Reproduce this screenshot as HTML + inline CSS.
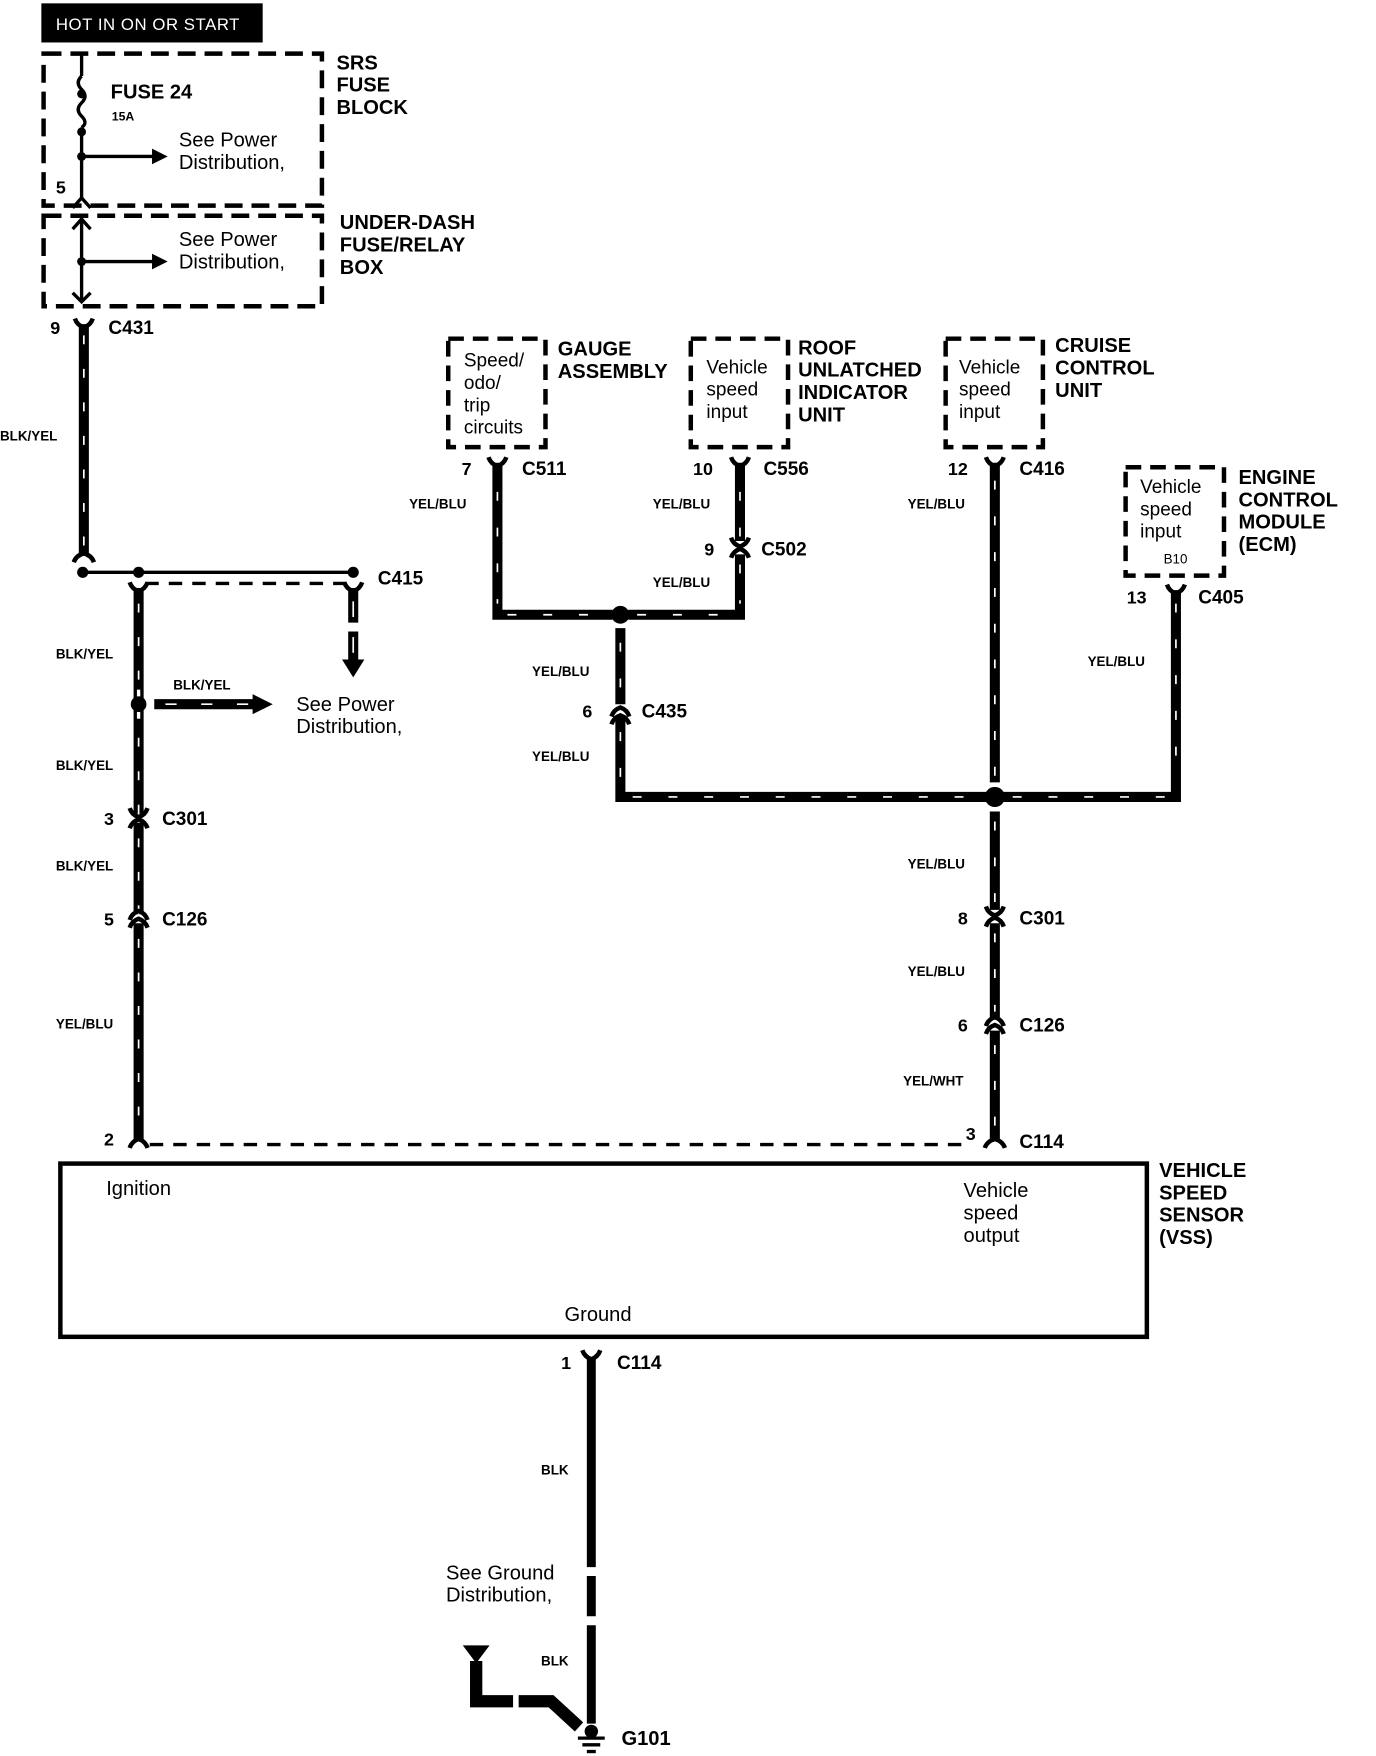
<!DOCTYPE html>
<html><head><meta charset="utf-8"><style>
html,body{margin:0;padding:0;background:#fff;}
svg{display:block;}
text{font-family:"Liberation Sans",sans-serif;fill:#000;}
.b{font-weight:bold;}
</style></head><body>
<svg width="1376" height="1756" viewBox="0 0 1231 1571" preserveAspectRatio="none" xmlns="http://www.w3.org/2000/svg">
<defs>
<g id="fem"><path d="M-8,-9 Q-6,-3 0,-1 Q6,-3 8,-9" fill="none" stroke="#000" stroke-width="4"/><rect x="-3" y="-3" width="6" height="8" fill="#000"/></g>
<g id="jn"><path d="M-8,-9 Q-6,-3 0,-1 Q6,-3 8,-9" fill="none" stroke="#000" stroke-width="4"/><path d="M-8,9 Q-6,3 0,1 Q6,3 8,9" fill="none" stroke="#000" stroke-width="4"/></g>
</defs>
<g stroke-linecap="butt">
<!-- HOT box -->
<rect x="37" y="3" width="198" height="35" fill="#000"/>
<text x="50" y="27" font-size="15" style="fill:#fff" letter-spacing="0.5">HOT IN ON OR START</text>

<!-- SRS box -->
<rect x="39" y="48" width="249" height="136" fill="none" stroke="#000" stroke-width="4" stroke-dasharray="16 8"/>
<text class="b" x="301" y="62" font-size="18">SRS</text>
<text class="b" x="301" y="82" font-size="18">FUSE</text>
<text class="b" x="301" y="102" font-size="18">BLOCK</text>
<line x1="73" y1="48" x2="73" y2="68" stroke="#000" stroke-width="3"/>
<path d="M73,68 q-6,6 0,12 q6,6 0,12 q-6,6 0,12 q6,6 0,10" fill="none" stroke="#000" stroke-width="3"/>
<line x1="73" y1="114" x2="73" y2="178" stroke="#000" stroke-width="3"/>
<circle cx="73" cy="84" r="4"/><circle cx="73" cy="118" r="4"/><circle cx="73" cy="140" r="4"/>
<line x1="73" y1="140" x2="138" y2="140" stroke="#000" stroke-width="3"/>
<path d="M136,133 L150,140 L136,147Z"/>
<text class="b" x="99" y="88" font-size="18">FUSE 24</text>
<text class="b" x="100" y="108" font-size="11">15A</text>
<text x="160" y="131" font-size="18">See Power</text>
<text x="160" y="151" font-size="18">Distribution,</text>
<text class="b" x="50" y="173" font-size="16">5</text>
<path d="M65,186 L73,177 L81,186" fill="none" stroke="#000" stroke-width="3"/>

<!-- Under-dash -->
<rect x="39" y="193" width="249" height="81" fill="none" stroke="#000" stroke-width="4" stroke-dasharray="16 8"/>
<line x1="73" y1="196" x2="73" y2="270" stroke="#000" stroke-width="3"/>
<path d="M65,205 L73,196 L81,205 M65,262 L73,270 L81,262" fill="none" stroke="#000" stroke-width="3"/>
<circle cx="73" cy="234" r="4"/>
<line x1="73" y1="234" x2="138" y2="234" stroke="#000" stroke-width="3"/>
<path d="M136,227 L150,234 L136,241Z"/>
<text x="160" y="220" font-size="18">See Power</text>
<text x="160" y="240" font-size="18">Distribution,</text>
<text class="b" x="304" y="205" font-size="18">UNDER-DASH</text>
<text class="b" x="304" y="225" font-size="18">FUSE/RELAY</text>
<text class="b" x="304" y="245" font-size="18">BOX</text>

<!-- BLK/YEL from C431 -->
<text class="b" x="45" y="299" font-size="16">9</text>
<text class="b" x="97" y="299" font-size="17">C431</text>
<line x1="75" y1="290" x2="75" y2="496" stroke="#000" stroke-width="9"/>
<line x1="75" y1="300" x2="75" y2="496" stroke="#fff" stroke-width="1.5" stroke-dasharray="8 22"/>
<use href="#fem" x="75" y="294"/>
<path d="M66,503 Q68,497 75,495 Q82,497 84,503" fill="none" stroke="#000" stroke-width="4"/>
<text class="b" x="0" y="394" font-size="12">BLK/YEL</text>

<!-- C415 -->
<line x1="74" y1="512" x2="316" y2="512" stroke="#000" stroke-width="3"/>
<circle cx="74" cy="512" r="5"/><circle cx="124" cy="512" r="5"/><circle cx="316" cy="512" r="5"/>
<line x1="130" y1="522" x2="312" y2="522" stroke="#000" stroke-width="3" stroke-dasharray="12 9"/>
<text class="b" x="338" y="523" font-size="17">C415</text>
<line x1="124" y1="526" x2="124" y2="1020" stroke="#000" stroke-width="9"/>
<line x1="124" y1="540" x2="124" y2="1020" stroke="#fff" stroke-width="1.5" stroke-dasharray="8 22"/>
<use href="#fem" x="124" y="530"/>
<line x1="316" y1="526" x2="316" y2="557" stroke="#000" stroke-width="9"/>
<line x1="316" y1="565" x2="316" y2="592" stroke="#000" stroke-width="9"/>
<use href="#fem" x="316" y="530"/>
<path d="M306,590 L316,606 L326,590Z"/>
<line x1="316" y1="538" x2="316" y2="552" stroke="#fff" stroke-width="1.5"/>
<line x1="316" y1="570" x2="316" y2="584" stroke="#fff" stroke-width="1.5"/>

<circle cx="124" cy="630" r="7"/>
<line x1="138" y1="630" x2="228" y2="630" stroke="#000" stroke-width="9"/>
<line x1="148" y1="630" x2="228" y2="630" stroke="#fff" stroke-width="1.5" stroke-dasharray="10 22"/>
<path d="M226,621 L244,630 L226,639Z"/>
<line x1="124" y1="617" x2="124" y2="623" stroke="#fff" stroke-width="3"/>
<line x1="124" y1="637" x2="124" y2="643" stroke="#fff" stroke-width="3"/>
<text class="b" x="155" y="617" font-size="12">BLK/YEL</text>
<text x="265" y="636" font-size="18">See Power</text>
<text x="265" y="656" font-size="18">Distribution,</text>
<text class="b" x="50" y="589" font-size="12">BLK/YEL</text>
<text class="b" x="50" y="689" font-size="12">BLK/YEL</text>
<text class="b" x="50" y="779" font-size="12">BLK/YEL</text>
<text class="b" x="50" y="920" font-size="12">YEL/BLU</text>
<rect x="116" y="728" width="16" height="8" fill="#fff"/>
<use href="#jn" x="124" y="732"/>
<text class="b" x="93" y="738" font-size="16">3</text>
<text class="b" x="145" y="738" font-size="17">C301</text>
<rect x="116" y="818" width="16" height="8" fill="#fff"/>
<path d="M116,823 Q118,817 124,815 Q130,817 132,823 M116,830 Q118,824 124,822 Q130,824 132,830" fill="none" stroke="#000" stroke-width="4"/>
<text class="b" x="93" y="828" font-size="16">5</text>
<text class="b" x="145" y="828" font-size="17">C126</text>

<!-- bottom dashed link -->
<text class="b" x="93" y="1025" font-size="16">2</text>
<path d="M116,1027 Q118,1021 124,1019 Q130,1021 132,1027" fill="none" stroke="#000" stroke-width="4"/>
<line x1="134" y1="1024" x2="868" y2="1024" stroke="#000" stroke-width="3" stroke-dasharray="12 9"/>

<!-- VSS -->
<rect x="54" y="1041" width="972" height="155" fill="none" stroke="#000" stroke-width="4"/>
<text x="95" y="1069" font-size="18">Ignition</text>
<text x="862" y="1071" font-size="18">Vehicle</text>
<text x="862" y="1091" font-size="18">speed</text>
<text x="862" y="1111" font-size="18">output</text>
<text x="505" y="1182" font-size="18">Ground</text>
<text class="b" x="1037" y="1053" font-size="18">VEHICLE</text>
<text class="b" x="1037" y="1073" font-size="18">SPEED</text>
<text class="b" x="1037" y="1093" font-size="18">SENSOR</text>
<text class="b" x="1037" y="1113" font-size="18">(VSS)</text>

<!-- ground wire -->
<text class="b" x="502" y="1225" font-size="16">1</text>
<text class="b" x="552" y="1225" font-size="17">C114</text>
<use href="#fem" x="529" y="1217"/>
<line x1="529" y1="1214" x2="529" y2="1402" stroke="#000" stroke-width="8"/>
<line x1="529" y1="1410" x2="529" y2="1446" stroke="#000" stroke-width="8"/>
<line x1="529" y1="1454" x2="529" y2="1542" stroke="#000" stroke-width="8"/>
<text class="b" x="484" y="1319" font-size="12">BLK</text>
<text class="b" x="484" y="1490" font-size="12">BLK</text>
<text x="399" y="1413" font-size="18">See Ground</text>
<text x="399" y="1433" font-size="18">Distribution,</text>
<path d="M414,1472 L438,1472 L426,1488Z"/>
<path d="M426,1486 L426,1522 L459,1522" fill="none" stroke="#000" stroke-width="11"/>
<path d="M464,1522 L493,1522 L518,1545" fill="none" stroke="#000" stroke-width="11"/>
<circle cx="529" cy="1549" r="6"/>
<line x1="517" y1="1555" x2="541" y2="1555" stroke="#000" stroke-width="3"/>
<line x1="521" y1="1561" x2="537" y2="1561" stroke="#000" stroke-width="3"/>
<line x1="525" y1="1567" x2="533" y2="1567" stroke="#000" stroke-width="3"/>
<text class="b" x="556" y="1561" font-size="18">G101</text>

<!-- module boxes -->
<rect x="401" y="303" width="87" height="97" fill="none" stroke="#000" stroke-width="4" stroke-dasharray="14 8"/>
<text x="415" y="328" font-size="17">Speed/</text>
<text x="415" y="348" font-size="17">odo/</text>
<text x="415" y="368" font-size="17">trip</text>
<text x="415" y="388" font-size="17">circuits</text>
<text class="b" x="499" y="318" font-size="18">GAUGE</text>
<text class="b" x="499" y="338" font-size="18">ASSEMBLY</text>

<rect x="618" y="303" width="87" height="97" fill="none" stroke="#000" stroke-width="4" stroke-dasharray="14 8"/>
<text x="632" y="334" font-size="17">Vehicle</text>
<text x="632" y="354" font-size="17">speed</text>
<text x="632" y="374" font-size="17">input</text>
<text class="b" x="714" y="317" font-size="18">ROOF</text>
<text class="b" x="714" y="337" font-size="18">UNLATCHED</text>
<text class="b" x="714" y="357" font-size="18">INDICATOR</text>
<text class="b" x="714" y="377" font-size="18">UNIT</text>

<rect x="846" y="303" width="87" height="97" fill="none" stroke="#000" stroke-width="4" stroke-dasharray="14 8"/>
<text x="858" y="334" font-size="17">Vehicle</text>
<text x="858" y="354" font-size="17">speed</text>
<text x="858" y="374" font-size="17">input</text>
<text class="b" x="944" y="315" font-size="18">CRUISE</text>
<text class="b" x="944" y="335" font-size="18">CONTROL</text>
<text class="b" x="944" y="355" font-size="18">UNIT</text>

<rect x="1007" y="418" width="88" height="97" fill="none" stroke="#000" stroke-width="4" stroke-dasharray="14 8"/>
<text x="1020" y="441" font-size="17">Vehicle</text>
<text x="1020" y="461" font-size="17">speed</text>
<text x="1020" y="481" font-size="17">input</text>
<text x="1041" y="504" font-size="12">B10</text>
<text class="b" x="1108" y="433" font-size="18">ENGINE</text>
<text class="b" x="1108" y="453" font-size="18">CONTROL</text>
<text class="b" x="1108" y="473" font-size="18">MODULE</text>
<text class="b" x="1108" y="493" font-size="18">(ECM)</text>

<!-- YEL/BLU network -->
<g fill="none" stroke="#000" stroke-width="9">
<path d="M445,414 L445,550 L548,550"/>
<path d="M662,414 L662,484 M662,496 L662,550 L562,550"/>
<path d="M555,562 L555,630 M555,640 L555,713 L883,713"/>
<path d="M897,713 L1052,713 L1052,528"/>
<path d="M890,414 L890,700 M890,726 L890,814 M890,826 L890,910 M890,922 L890,1020"/>
</g>
<g fill="none" stroke="#fff" stroke-width="1.5" stroke-dasharray="8 24">
<path d="M445,440 L445,540"/>
<path d="M662,440 L662,480 M662,505 L662,540"/>
<path d="M454,550 L540,550 M570,550 L655,550"/>
<path d="M555,575 L555,625 M555,655 L555,700"/>
<path d="M566,713 L880,713 M906,713 L1045,713"/>
<path d="M1052,540 L1052,700"/>
<path d="M890,430 L890,695 M890,735 L890,808 M890,835 L890,905 M890,935 L890,1012"/>
</g>
<circle cx="555" cy="550" r="8"/>
<circle cx="890" cy="713" r="9"/>
<use href="#fem" x="445" y="418"/>
<use href="#fem" x="662" y="418"/>
<use href="#fem" x="890" y="418"/>
<use href="#fem" x="1052" y="532"/>
<use href="#jn" x="662" y="490"/>
<use href="#jn" x="890" y="820"/>
<path d="M547,641 Q549,635 555,633 Q561,635 563,641 M547,648 Q549,642 555,640 Q561,642 563,648" fill="none" stroke="#000" stroke-width="4"/>
<path d="M882,918 Q884,912 890,910 Q896,912 898,918 M882,925 Q884,919 890,917 Q896,919 898,925" fill="none" stroke="#000" stroke-width="4"/>
<path d="M881,1027 Q883,1021 890,1019 Q897,1021 899,1027" fill="none" stroke="#000" stroke-width="4"/>

<text class="b" x="413" y="425" font-size="16">7</text>
<text class="b" x="467" y="425" font-size="17">C511</text>
<text class="b" x="620" y="425" font-size="16">10</text>
<text class="b" x="683" y="425" font-size="17">C556</text>
<text class="b" x="848" y="425" font-size="16">12</text>
<text class="b" x="912" y="425" font-size="17">C416</text>
<text class="b" x="1008" y="540" font-size="16">13</text>
<text class="b" x="1072" y="540" font-size="17">C405</text>
<text class="b" x="630" y="497" font-size="16">9</text>
<text class="b" x="681" y="497" font-size="17">C502</text>
<text class="b" x="521" y="642" font-size="16">6</text>
<text class="b" x="574" y="642" font-size="17">C435</text>
<text class="b" x="857" y="827" font-size="16">8</text>
<text class="b" x="912" y="827" font-size="17">C301</text>
<text class="b" x="857" y="923" font-size="16">6</text>
<text class="b" x="912" y="923" font-size="17">C126</text>
<text class="b" x="864" y="1020" font-size="16">3</text>
<text class="b" x="912" y="1027" font-size="17">C114</text>

<g class="b" font-size="12" font-weight="bold">
<text x="366" y="455">YEL/BLU</text>
<text x="584" y="455">YEL/BLU</text>
<text x="584" y="525">YEL/BLU</text>
<text x="476" y="605">YEL/BLU</text>
<text x="476" y="681">YEL/BLU</text>
<text x="812" y="455">YEL/BLU</text>
<text x="973" y="596">YEL/BLU</text>
<text x="812" y="777">YEL/BLU</text>
<text x="812" y="873">YEL/BLU</text>
<text x="808" y="971">YEL/WHT</text>
</g>
</g>
</svg>
</body></html>
